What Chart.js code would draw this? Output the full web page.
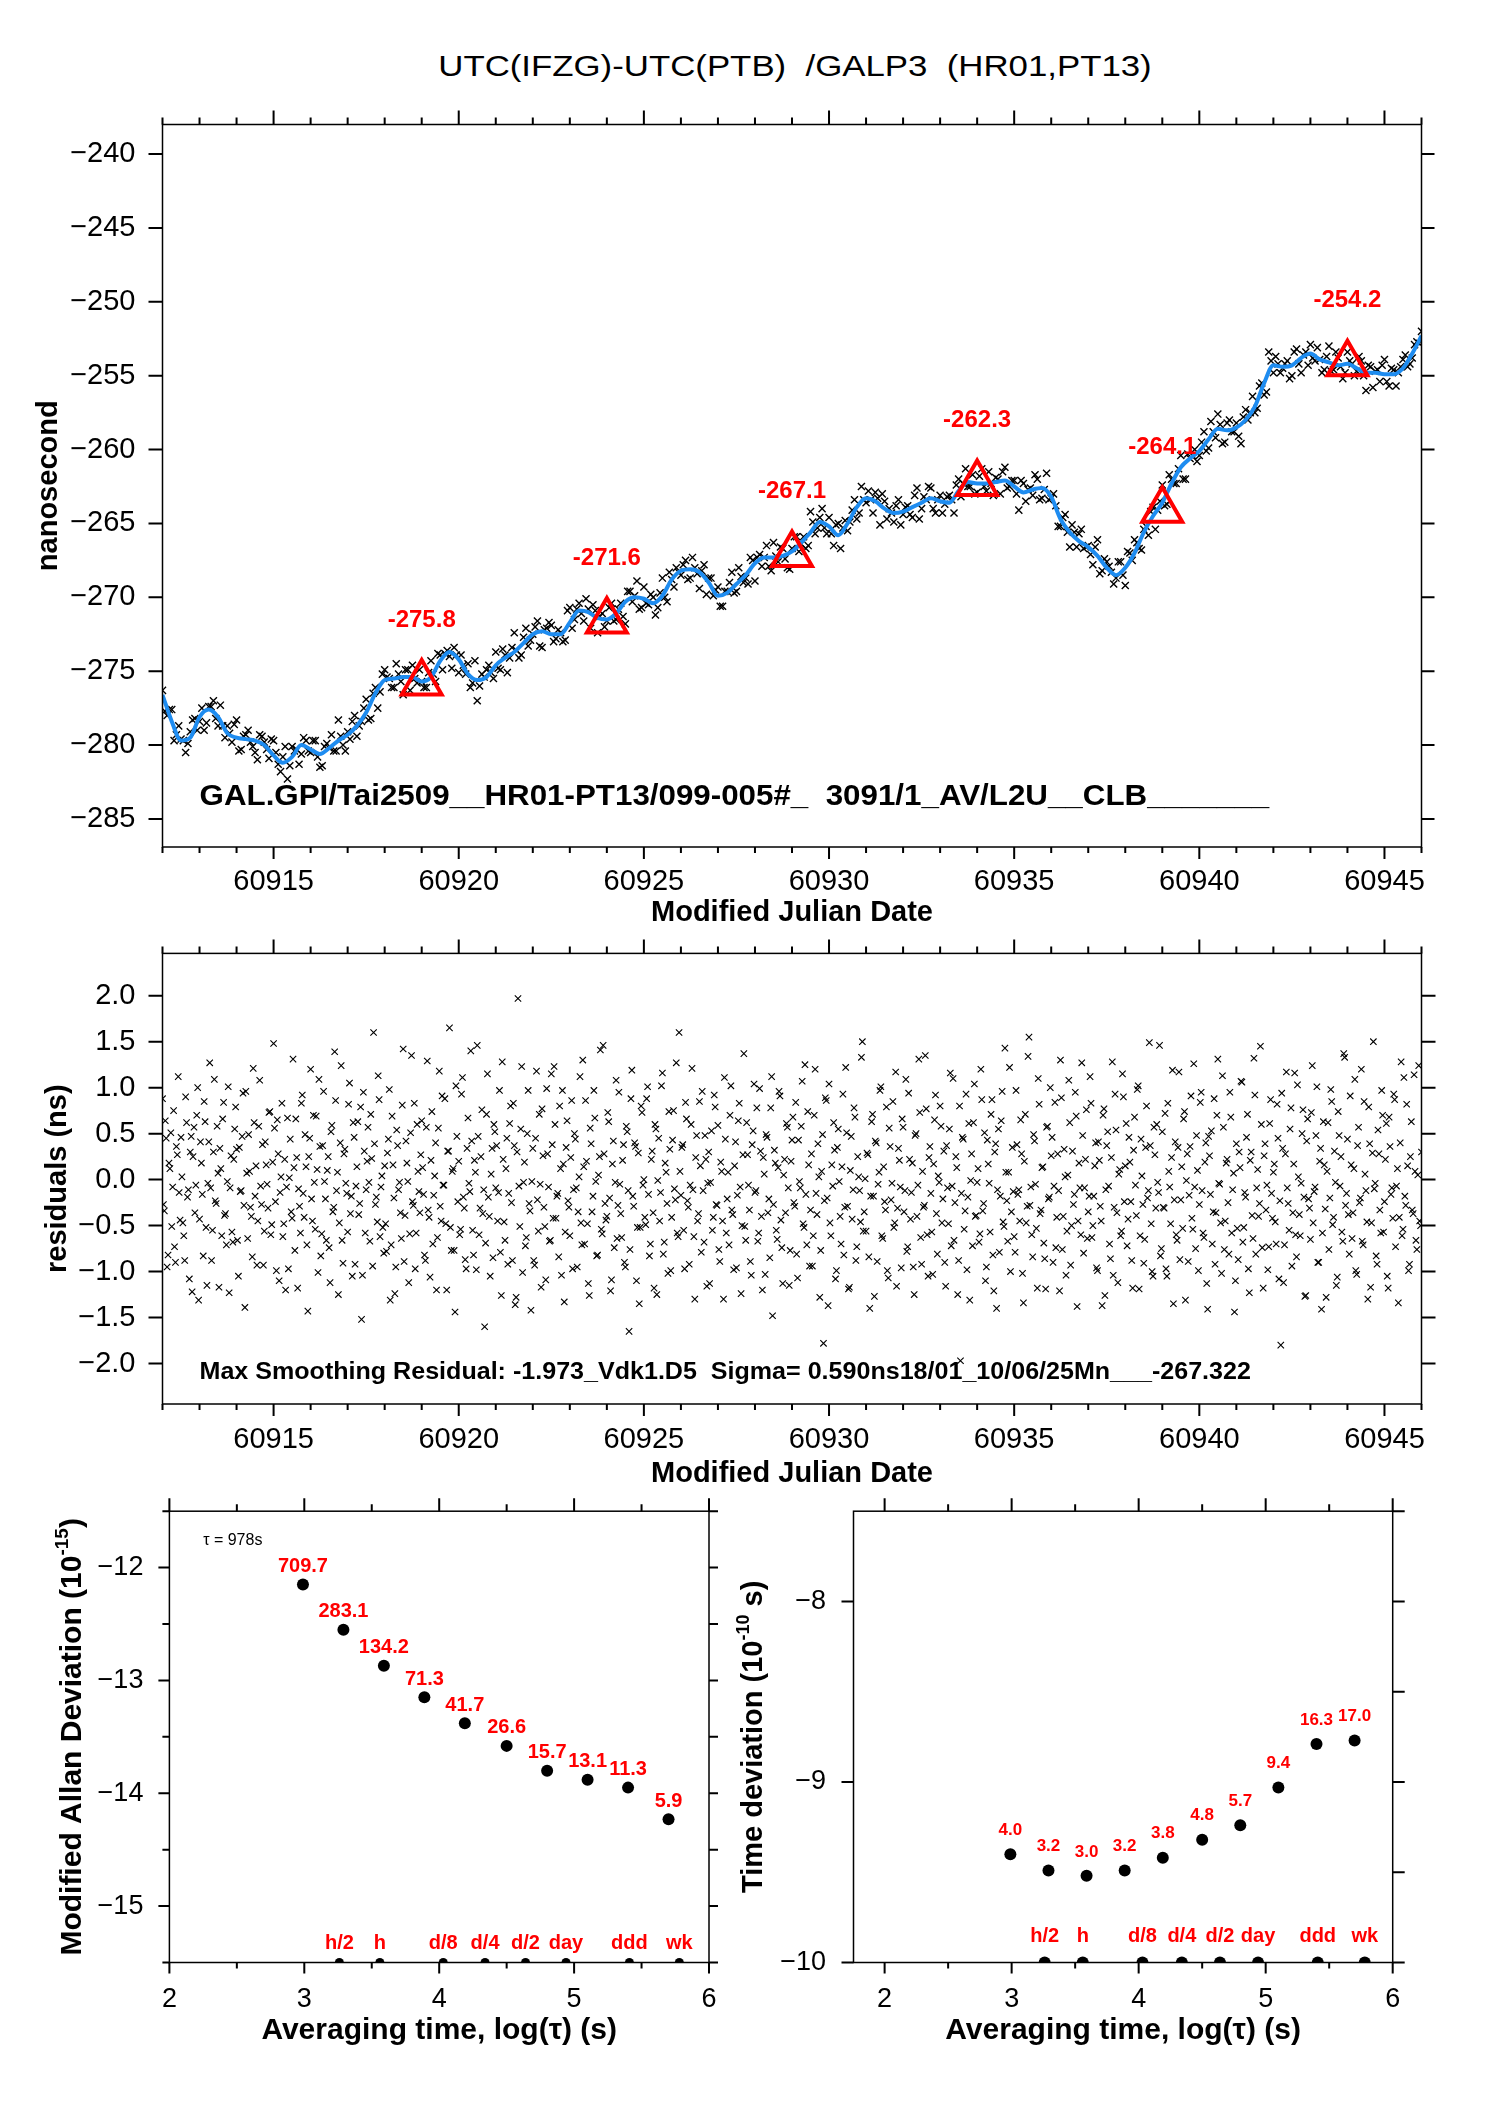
<!DOCTYPE html>
<html>
<head>
<meta charset="utf-8">
<script src="https://cdn.jsdelivr.net/npm/chart.js@4.4.1/dist/chart.umd.min.js"></script>
<style>
  body { margin: 0; background: #fff; }
  #page { position: relative; width: 1488px; height: 2105px; overflow: hidden; background: #fff; }
  .box { position: absolute; }
  #title { position: absolute; left: 295px; width: 1000px; top: 50px; line-height: 38px; text-align: center;
           font: 29px "Liberation Sans", Arial, sans-serif; white-space: pre; color: #000;
           transform: scaleX(1.2); transform-origin: 50% 50%; }
</style>
</head>
<body>
<div id="page">
  <div id="title">UTC(IFZG)-UTC(PTB)  /GALP3  (HR01,PT13)</div>
  <div class="box" style="left:0;top:90px;width:1488px;height:850px"><canvas id="top"></canvas></div>
  <div class="box" style="left:0;top:936px;width:1488px;height:564px"><canvas id="resid"></canvas></div>
  <div class="box" style="left:0;top:1495px;width:730px;height:610px"><canvas id="adev"></canvas></div>
  <div class="box" style="left:730px;top:1495px;width:758px;height:610px"><canvas id="tdev"></canvas></div>
</div>
<script>
// time span of the MJD panels
var mjdStart = 60912
var mjdEnd = 60946

// observations UTC(IFZG)-UTC(PTB), ns, every 1/8 day from mjdStart
var obsValues = [
  -276.3,-278.0,-277.6,-279.3,-279.6,-280.5,-279.1,-278.2,
  -278.4,-279.0,-277.4,-277.0,-278.7,-278.7,-278.7,-279.8,
  -278.3,-280.3,-279.3,-279.8,-280.5,-279.3,-279.8,-280.9,
  -279.7,-281.3,-280.8,-282.3,-280.1,-280.3,-280.6,-279.7,
  -280.5,-279.7,-281.5,-280.1,-280.2,-280.4,-278.3,-280.0,
  -279.1,-278.4,-279.4,-278.4,-276.9,-278.2,-276.1,-276.4,
  -274.9,-275.5,-276.1,-275.2,-276.6,-274.9,-274.6,-275.8,
  -275.7,-276.1,-274.3,-275.7,-273.9,-273.8,-274.0,-273.4,
  -275.1,-274.6,-274.5,-275.8,-277.0,-275.2,-274.9,-275.1,
  -273.7,-274.9,-273.9,-274.1,-272.4,-274.1,-272.7,-273.3,
  -272.5,-271.6,-273.4,-272.1,-271.9,-272.8,-272.4,-272.9,
  -270.7,-271.5,-270.4,-271.6,-270.8,-270.5,-272.4,-271.1,
  -271.6,-270.4,-271.5,-270.4,-271.8,-269.6,-269.9,-270.8,
  -269.3,-270.5,-270.0,-270.7,-268.7,-270.3,-268.8,-268.0,
  -268.5,-267.5,-268.7,-268.0,-269.4,-267.8,-268.7,-269.9,
  -269.3,-270.6,-269.6,-268.3,-269.6,-268.6,-268.7,-267.3,
  -268.9,-267.1,-267.3,-267.9,-266.3,-267.6,-266.7,-268.0,
  -266.7,-265.9,-266.4,-266.7,-264.2,-265.7,-264.6,-265.3,
  -264.6,-266.5,-265.0,-265.3,-265.5,-264.1,-264.7,-262.5,
  -263.6,-263.4,-262.9,-265.1,-263.5,-264.0,-264.9,-263.4,
  -264.4,-263.8,-264.6,-262.6,-264.0,-263.4,-262.6,-264.3,
  -263.1,-263.7,-263.1,-264.3,-262.0,-262.3,-262.5,-261.7,
  -262.9,-261.3,-262.8,-262.3,-261.9,-263.0,-261.2,-262.5,
  -262.1,-264.1,-262.3,-262.7,-263.1,-262.0,-263.3,-261.6,
  -263.3,-263.8,-265.2,-264.4,-266.6,-265.6,-265.7,-266.7,
  -266.5,-267.8,-266.1,-268.2,-267.6,-268.3,-268.7,-267.6,
  -269.2,-267.0,-266.1,-266.7,-265.4,-265.8,-263.9,-264.1,
  -262.4,-263.7,-262.0,-262.3,-260.4,-262.0,-260.6,-260.0,
  -260.4,-258.8,-259.9,-258.8,-257.6,-259.6,-258.2,-258.8,
  -258.2,-259.6,-257.3,-257.5,-257.5,-255.7,-256.3,-253.4,
  -254.8,-254.2,-254.5,-254.0,-255.0,-253.2,-254.8,-253.4,
  -252.9,-254.0,-253.9,-254.6,-253.0,-254.6,-253.8,-255.2,
  -253.4,-254.2,-254.7,-254.0,-256.0,-254.4,-254.7,-255.4,
  -253.9,-255.7,-254.6,-254.8,-253.9,-254.4,-253.8,-252.7,
  -252.0
]
// observations in between, every 1/8 day from mjdStart + 1/16
var obsMidValues = [
  -277.7,-277.6,-279.7,-278.7,-279.7,-279.9,-278.3,-279.0,
  -277.5,-278.5,-277.4,-278.2,-277.3,-279.5,-279.2,-278.6,
  -280.4,-279.4,-279.0,-280.1,-281.0,-279.4,-280.3,-279.6,
  -280.5,-281.8,-280.1,-281.4,-280.4,-281.3,-279.5,-280.4,
  -279.7,-280.8,-281.4,-279.9,-279.3,-280.4,-279.4,-280.4,
  -279.6,-278.0,-278.7,-277.5,-278.3,-276.5,-277.5,-275.2,
  -275.4,-276.1,-274.5,-275.7,-274.9,-276.3,-275.5,-274.9,
  -276.1,-275.1,-275.2,-273.8,-274.9,-273.6,-274.8,-273.9,
  -273.9,-275.2,-276.1,-274.3,-276.0,-275.4,-274.6,-275.5,
  -274.8,-273.5,-275.1,-273.4,-273.6,-273.9,-272.1,-272.9,
  -272.0,-273.3,-272.2,-271.7,-273.0,-272.2,-273.0,-270.9,
  -272.1,-270.8,-271.1,-270.1,-272.1,-270.9,-271.3,-272.0,
  -270.7,-271.6,-270.8,-271.3,-269.6,-270.3,-268.9,-270.7,
  -270.4,-269.8,-271.2,-269.7,-270.0,-268.3,-269.3,-268.3,
  -267.8,-268.8,-267.3,-268.4,-268.2,-269.8,-268.7,-269.5,
  -270.6,-269.6,-269.0,-269.7,-268.0,-269.0,-269.1,-267.5,
  -267.3,-267.9,-266.5,-268.2,-267.2,-266.6,-267.4,-268.1,
  -265.9,-266.9,-265.9,-266.5,-264.9,-265.3,-264.0,-265.7,
  -265.7,-265.1,-266.7,-264.8,-264.9,-263.4,-264.3,-263.4,
  -262.8,-264.3,-263.3,-263.0,-264.7,-264.3,-263.8,-265.1,
  -263.9,-264.4,-263.1,-264.7,-263.2,-262.5,-264.0,-263.4,
  -264.3,-263.2,-263.4,-262.4,-263.2,-261.3,-262.5,-263.0,
  -261.8,-262.5,-261.5,-263.1,-262.0,-261.5,-262.6,-262.1,
  -263.0,-262.1,-263.5,-262.6,-261.7,-263.4,-262.7,-263.4,
  -263.0,-265.2,-264.6,-265.6,-265.1,-266.6,-265.4,-266.6,
  -267.1,-266.6,-268.4,-267.4,-267.9,-269.1,-267.6,-268.5,
  -266.9,-267.5,-266.3,-266.8,-265.2,-264.2,-265.4,-263.5,
  -263.8,-261.7,-262.3,-261.3,-262.0,-260.3,-260.4,-260.8,
  -259.5,-260.1,-258.1,-259.2,-258.3,-259.5,-258.0,-258.8,
  -259.1,-257.8,-258.0,-256.4,-257.2,-255.5,-256.1,-254.0,
  -253.7,-254.8,-254.2,-255.2,-253.4,-254.2,-253.6,-254.3,
  -253.8,-253.1,-254.8,-253.7,-254.7,-253.4,-254.4,-254.8,
  -254.0,-255.0,-253.7,-255.0,-254.3,-255.8,-254.6,-254.3,
  -255.4,-254.5,-255.7,-254.4,-253.6,-254.2,-252.9,-252.8
]

// smoothing curve, ns, every 1/4 day
var smoothValues = [
  -276.6,-278.4,-279.7,-279.5,-278.1,-277.6,-278.1,-279.2,
  -279.5,-279.6,-279.7,-280.0,-280.7,-281.2,-280.8,-280.0,
  -280.3,-280.6,-280.2,-279.7,-279.3,-278.7,-277.8,-276.5,
  -275.6,-275.5,-275.4,-275.4,-275.7,-275.4,-274.3,-273.7,
  -274.2,-275.2,-275.6,-275.4,-274.6,-274.1,-273.7,-273.1,
  -272.5,-272.3,-272.5,-272.5,-271.7,-270.9,-271.0,-271.4,
  -271.5,-271.1,-270.3,-270.0,-270.1,-270.4,-269.9,-268.8,
  -268.2,-268.1,-268.3,-269.0,-269.9,-269.7,-269.1,-268.5,
  -267.7,-267.3,-267.3,-267.2,-266.9,-266.3,-265.6,-264.9,
  -265.2,-265.8,-265.0,-263.9,-263.3,-263.5,-264.0,-264.3,
  -264.2,-263.9,-263.6,-263.3,-263.5,-263.6,-262.8,-262.2,
  -262.3,-262.3,-262.2,-262.1,-262.5,-262.9,-262.7,-262.6,
  -263.2,-264.7,-265.6,-266.2,-266.6,-267.2,-268.0,-268.5,
  -268.0,-267.0,-265.6,-264.5,-263.6,-262.3,-261.2,-260.6,
  -260.1,-259.3,-258.6,-258.7,-258.5,-258.0,-257.1,-255.5,
  -254.3,-254.4,-254.3,-253.8,-253.5,-253.9,-254.1,-254.3,
  -254.2,-254.5,-254.8,-254.8,-254.9,-254.9,-254.5,-253.5,
  -252.3
]

// red triangles every 5 days
var triMjd = [60919, 60924, 60929, 60934, 60939, 60944]
var triValues = [-275.8, -271.6, -267.1, -262.3, -264.1, -254.2]

// residuals in 1/100 ns, every 1/20 day from mjdStart
var residCenti = [
  88,-34,45,-82,12,-51,75,-90,27,-14,46,-47,-88,62,-11,30,-122,57,-6,100,
  -43,18,-83,63,-115,41,-9,-55,109,-26,7,34,-61,84,-37,-2,-123,26,-68,55,
  33,-105,-13,47,-28,96,-64,9,-40,121,-18,-93,58,-7,38,-56,16,-31,74,-49,
  148,-24,65,-110,3,-62,22,-8,-97,44,-42,13,66,-118,-29,83,-15,49,-71,25,
  120,-45,-3,69,-101,36,-59,96,-21,10,-74,52,-35,139,-12,-125,40,-66,28,-4,
  -57,105,-18,62,-92,14,-38,79,-104,31,-11,57,-67,23,160,-27,-46,87,-8,-52,
  15,-78,44,-131,69,-20,-95,37,-3,-64,142,-39,18,-112,51,-24,83,-58,9,-36,
  64,-16,-88,129,-41,21,-70,4,-120,56,-29,91,-6,-48,31,165,-77,12,-144,47,
  20,-54,111,-31,-97,67,-13,42,-82,8,146,-60,25,-37,-160,71,-19,-105,34,60,
  -9,-45,97,-126,22,-66,45,-15,80,-88,37,-128,197,-51,123,-3,-72,50,-26,-142,
  34,-93,118,-56,-5,77,-30,-109,28,-67,115,-42,60,-18,-84,12,97,-133,35,-23,
  -61,86,-11,44,-95,3,-47,130,-70,20,-113,56,-35,97,-2,-82,25,-54,146,-26,
  -40,63,-121,17,-74,108,-28,-5,-63,38,-95,52,-165,88,-18,40,-110,29,-52,73,
  0,-49,101,-83,22,-36,60,-125,45,-14,116,-68,8,-102,33,-41,75,-22,-58,160,
  -17,38,-97,66,-30,-6,121,-62,24,-45,85,-79,-12,48,-116,30,-3,-55,92,-27,
  59,-89,9,-130,44,-21,-71,102,-38,15,-96,64,-8,-50,137,-66,27,-33,-104,53,
  -14,78,-58,31,-120,6,49,-36,-85,112,-27,18,-65,96,-44,-113,22,61,-9,-77,
  43,-25,84,-107,-2,58,-48,125,-71,16,-33,-94,70,-15,39,-128,9,-178,89,-20,
  104,-61,-7,32,-99,55,-40,14,-82,122,-29,-117,47,-11,68,-73,3,-46,150,-35,
  -56,27,-140,63,-18,42,-89,8,101,-64,-24,79,-107,36,-4,-52,117,-31,21,-96,
  57,-12,-78,94,-43,18,-125,50,-6,73,-92,-30,135,-60,24,-15,-103,65,-37,4,
  80,-47,31,-116,-9,55,-72,110,-25,13,-88,-197,46,-54,93,-19,-131,28,62,-40,
  -3,-68,120,-34,51,-95,17,-57,87,-121,39,-11,-79,64,-46,143,-23,8,-100,35,
  -62,97,-16,-45,28,-134,71,-29,155,-8,-84,42,-53,110,-37,13,-69,-119,58,-19,
  26,-90,84,-41,-12,130,-76,33,-104,5,62,-50,-27,95,-138,18,-60,48,-9,76,
  -35,112,-63,-18,40,-99,21,-45,70,-126,37,-7,-86,128,-30,54,-112,11,-56,90,
  15,-72,46,-24,-118,68,-39,102,-61,4,-91,35,-20,149,-48,-105,27,60,-14,-83,
  52,-31,-97,83,-8,24,-135,41,-66,117,-22,-53,74,-1,-89,36,-42,126,-75,10,
  -27,95,-58,19,-113,47,-16,-70,88,-36,131,-5,-102,57,-45,22,-81,68,-11,-144,
  39,-87,13,106,-52,-19,71,-123,30,-64,92,-9,-40,145,-74,26,-33,-98,61,-15,
  8,-46,82,-108,-180,34,-71,117,-26,55,-94,17,-60,103,-38,-4,76,-127,42,-21,
  -65,124,-13,48,-90,20,-141,63,-32,9,-76,98,-49,31,-115,74,-7,-57,137,-28,
  44,-81,16,-36,109,-103,57,-20,-67,85,-12,-130,39,-47,150,-4,-92,28,-58,70,
  -24,61,-118,36,-9,93,-73,12,-41,128,-54,-18,82,-99,25,-33,114,-66,5,-45,
  30
]
// residuals in between, every 1/20 day from mjdStart + 1/40
var residMidCenti = [
  -27,64,-95,18,51,-8,-73,36,112,-44,3,-61,90,-19,-108,47,25,-36,70,-131,
  41,-16,85,-52,-4,127,-88,30,-23,58,-117,12,66,-39,-71,101,-9,-57,22,79,
  -66,35,-12,94,-139,7,49,-30,-84,62,15,-45,108,-27,-93,41,-5,73,-60,19,
  56,-99,28,-14,83,-48,-120,67,2,-35,131,-77,24,-10,-58,92,-41,14,-143,45,
  -21,70,-54,11,109,-83,37,-2,-66,25,-112,59,-30,86,8,-47,124,-91,33,-15,
  82,-37,-105,46,-7,63,-26,-152,95,-58,20,-3,71,-94,39,-19,113,-62,4,-80,
  -48,29,98,-71,16,-124,54,-11,-36,81,-89,42,-2,-59,135,-28,-97,60,-13,27,
  13,-82,57,-33,-106,74,-17,40,-63,118,-45,-6,88,-120,31,-52,9,-77,102,-24,
  -60,93,-19,-87,34,-4,140,-55,21,-98,47,-31,76,-11,-69,115,-40,6,-85,52,
  37,-14,-79,128,-46,12,-92,61,-25,83,-136,30,-7,55,-101,19,-63,97,-34,-2,
  -88,45,-22,71,-117,26,-51,99,-8,-66,38,123,-42,-15,80,-104,17,-57,64,-30,
  24,-97,50,-9,-35,112,-71,14,86,-48,-126,39,-18,67,-83,5,141,-59,28,-44,
  73,-20,-109,42,-3,-64,95,-37,21,-90,58,-12,-76,119,-29,36,-52,-135,80,-6,
  -41,88,-16,-70,31,-118,55,-1,-45,102,-81,18,-26,74,-99,43,-10,127,-62,9,
  35,-55,84,-23,-92,60,-11,-130,48,-37,15,96,-68,22,-4,-113,53,-41,79,-28,
  -76,19,-45,111,-58,8,70,-33,-98,41,-17,83,-124,27,-51,62,-6,-89,38,104,
  -12,-67,99,-40,24,-103,46,-21,78,-148,32,-55,13,91,-74,5,-36,57,-115,20,
  68,-29,-81,43,-9,107,-52,-16,74,-94,28,-61,120,-38,3,-77,49,-23,86,-137,
  -47,16,62,-108,35,-2,-70,93,-30,51,-119,10,-43,78,-88,25,-12,133,-56,1,
  29,-84,-18,71,-127,40,-5,97,-61,14,-33,-99,56,-22,85,-47,-116,34,-8,66,
  -35,109,-73,22,-14,-95,48,-40,131,-63,9,-28,77,-105,36,-57,17,92,-81,-3,
  58,-21,-90,37,-48,116,-7,-66,25,-125,80,-15,44,-34,-98,61,-1,-72,104,-39,
  12,-59,87,-26,-110,43,-4,71,-82,30,-140,55,-18,96,-51,8,-67,122,-35,-13,
  -79,38,-11,65,-102,20,-47,134,-28,-60,49,-5,-118,82,-33,14,-86,57,-21,100,
  46,-7,-74,28,-121,89,-40,3,-56,108,-93,31,-16,69,-45,-9,127,-80,22,-64,
  -18,83,-50,15,-96,41,-29,-137,77,-11,52,-70,24,-104,93,-36,6,-61,115,-24,
  61,-43,19,-88,32,-6,98,-119,44,-27,-65,80,-12,37,-100,57,-31,-3,146,-75,
  -30,72,-105,9,-48,119,-22,-60,35,-87,14,66,-131,28,-17,91,-54,-8,48,-99,
  84,-12,-63,40,-141,26,53,-35,-92,70,-4,-47,113,-76,18,-25,95,-58,7,-110,
  -53,30,107,-68,-14,46,-97,21,-39,132,-81,11,-26,60,-118,39,-6,-73,87,-42,
  17,-70,45,-23,94,-112,28,-9,-55,78,-36,116,-84,3,-61,50,-19,-126,66,-31,
  73,-47,-8,101,-90,34,-58,16,-128,62,-20,85,-41,-3,-106,48,25,-67,133,-15,
  -38,91,-64,12,-99,37,-25,120,-71,6,-46,79,-117,29,-10,-83,54,-33,97,-57,
  22,-105,68,-16,-42,87,-7,-134,40,-61,111,-28,15,-92,63,-37,9,-76,124,-50
]

// stability panels
var logTau = [2.99, 3.29, 3.59, 3.89, 4.19, 4.50, 4.80, 5.10, 5.40, 5.70]
var adevLog = [-12.15, -12.55, -12.87, -13.15, -13.38, -13.58, -13.80, -13.88, -13.95, -14.23]
var adevLabels = ['709.7', '283.1', '134.2', '71.3', '41.7', '26.6', '15.7', '13.1', '11.3', '5.9']
var tdevLog = [-9.40, -9.49, -9.52, -9.49, -9.42, -9.32, -9.24, -9.03, -8.79, -8.77]
var tdevLabels = ['4.0', '3.2', '3.0', '3.2', '3.8', '4.8', '5.7', '9.4', '16.3', '17.0']
var markTau = [3.26, 3.56, 4.03, 4.34, 4.64, 4.94, 5.41, 5.78]
var markNames = ['h/2', 'h', 'd/8', 'd/4', 'd/2', 'day', 'ddd', 'wk']

// tick labels
var mjdTicks = [60915, 60920, 60925, 60930, 60935, 60940, 60945]
var nsTicks = [-240, -245, -250, -255, -260, -265, -270, -275, -280, -285]
var residTicks = [-2, -1.5, -1, -0.5, 0, 0.5, 1, 1.5, 2]
var tauTicks = [2, 3, 4, 5, 6]
var adevTicks = [-12, -13, -14, -15]
var tdevTicks = [-8, -9, -10]

var FONT = '"Liberation Sans", Arial, sans-serif'
Chart.defaults.font.family = FONT
Chart.defaults.color = '#000'

function series(values, start, step, scale) {
  return values.map(function(v, i) { return {x: start + i * step, y: v * scale} })
}

var mjdMinor = []
for (var d = mjdStart; d <= mjdEnd; d++) mjdMinor.push(d)
var tauHalf = [2.5, 3.5, 4.5, 5.5]

//frame, outward ticks on the four sides and free texts
function decor(spec) {
  return {
    id: 'decor',
    afterDraw: function(chart) {
      var ctx = chart.ctx, a = chart.chartArea
      var xs = chart.scales.x, ys = chart.scales.y
      ctx.save()
      ctx.strokeStyle = '#000'
      ctx.lineWidth = 2
      ctx.beginPath()
      spec.xTicks.forEach(function(t) {
        t[0].forEach(function(v) {
          var p = xs.getPixelForValue(v)
          ctx.moveTo(p, a.top - t[1]); ctx.lineTo(p, a.top)
          ctx.moveTo(p, a.bottom); ctx.lineTo(p, a.bottom + t[2])
        })
      })
      spec.yTicks.forEach(function(t) {
        t[0].forEach(function(v) {
          var p = ys.getPixelForValue(v)
          ctx.moveTo(a.left - t[1], p); ctx.lineTo(a.left, p)
          ctx.moveTo(a.right, p); ctx.lineTo(a.right + t[2], p)
        })
      })
      ctx.stroke()
      ctx.lineWidth = 1.5
      ctx.strokeRect(a.left, a.top, a.right - a.left, a.bottom - a.top)
      ctx.textBaseline = 'middle'
      spec.texts.forEach(function(t) {
        ctx.save()
        ctx.font = t.font
        ctx.fillStyle = t.color || '#000'
        ctx.textAlign = t.align || 'center'
        ctx.translate(xs.getPixelForValue(t.x), ys.getPixelForValue(t.y) + (t.dy || 0))
        ctx.scale(t.sx || 1, 1)
        ctx.fillText(t.text, 0, 0)
        ctx.restore()
      })
      //rotated y title with a raised exponent
      if (spec.yTitle) {
        var T = spec.yTitle, total = 0
        ctx.save()
        ctx.translate(T.x, (a.top + a.bottom) / 2)
        ctx.rotate(-Math.PI / 2)
        ctx.fillStyle = '#000'
        ctx.textAlign = 'left'
        T.parts.forEach(function(p) { ctx.font = p.font; p.w = ctx.measureText(p.text).width; total += p.w })
        var pos = -total / 2
        T.parts.forEach(function(p) { ctx.font = p.font; ctx.fillText(p.text, pos, -(p.rise || 0)); pos += p.w })
        ctx.restore()
      }
      ctx.restore()
    }
  }
}

function xAxis(o) {
  return {
    type: 'linear', min: o.min, max: o.max,
    grid: {display: false, drawTicks: true, tickLength: o.pad}, border: {display: false},
    afterBuildTicks: function(s) { s.ticks = o.ticks.map(function(v) { return {value: v} }) },
    afterFit: function(s) { s.height = o.height },
    ticks: {color: '#000', font: {size: o.size}, padding: 0, maxRotation: 0, autoSkip: false,
            callback: function(v) { return String(v) }},
    title: {display: true, text: o.title, color: '#000', font: {size: o.titleSize, weight: 'bold'},
            padding: {top: 0, bottom: o.titlePad}}
  }
}

function yAxis(o) {
  return {
    type: 'linear', min: o.min, max: o.max,
    grid: {display: false, drawTicks: true, tickLength: o.pad}, border: {display: false},
    afterBuildTicks: function(s) { s.ticks = o.ticks.map(function(v) { return {value: v} }) },
    afterFit: function(s) { s.width = o.width },
    ticks: {color: '#000', font: {size: o.size}, padding: 0, autoSkip: false,
            callback: function(v) { return (v < 0 ? '\u2212' : '') + Math.abs(v).toFixed(o.dec) }},
    title: {display: !!o.title, text: o.title || '', color: '#000', font: {size: o.titleSize, weight: 'bold'},
            padding: {top: o.titlePad || 0, bottom: 0}}
  }
}

var baseOpts = {animation: false, responsive: true, maintainAspectRatio: false, devicePixelRatio: 1,
                events: [], plugins: {legend: {display: false}, tooltip: {enabled: false}}}

function opts(extra) { return Object.assign({}, baseOpts, extra) }

var crossStyle = {pointStyle: 'crossRot', pointRadius: 4.5, pointBorderWidth: 1.1, pointBorderColor: '#000'}
var crossBold = {pointStyle: 'crossRot', pointRadius: 5, pointBorderWidth: 1.4, pointBorderColor: '#000'}

//top panel
new Chart(document.getElementById('top'), {
  type: 'scatter',
  data: {datasets: [
    {data: triMjd.map(function(x, i) { return {x: x, y: triValues[i]} }), order: 0,
     pointStyle: 'triangle', pointRadius: 23, pointBorderWidth: 4,
     pointBorderColor: '#ff0000', pointBackgroundColor: 'rgba(0,0,0,0)'},
    {data: series(smoothValues, mjdStart, 0.25, 1), order: 1, showLine: true, borderColor: 'rgb(30,140,240)',
     borderWidth: 4, pointRadius: 0, cubicInterpolationMode: 'monotone'},
    Object.assign({data: series(obsValues, mjdStart, 0.125, 1), order: 2}, crossBold),
    Object.assign({data: series(obsMidValues, mjdStart + 0.0625, 0.125, 1), order: 3}, crossBold)
  ]},
  options: opts({
    layout: {padding: {top: 34.5, right: 66.5, left: 0, bottom: 0}},
    scales: {
      x: xAxis({min: mjdStart, max: mjdEnd, ticks: mjdTicks, height: 93, size: 29, pad: 17.6,
                title: 'Modified Julian Date', titleSize: 29, titlePad: 9.6}),
      y: yAxis({min: -286.9, max: -238.0, ticks: nsTicks, width: 162.5, size: 29, pad: 27, dec: 0,
                title: 'nanosecond', titleSize: 29, titlePad: 31.6})
    }
  }),
  plugins: [decor({
    xTicks: [[mjdTicks, 14, 12], [mjdMinor, 7, 6]],
    yTicks: [[nsTicks, 14, 13]],
    texts: triMjd.map(function(x, i) {
      return {text: triValues[i].toFixed(1), x: x, y: triValues[i], dy: -63, color: '#ff0000', font: 'bold 24px ' + FONT}
    }).concat([{text: 'GAL.GPI/Tai2509__HR01-PT13/099-005#_  3091/1_AV/L2U__CLB_______', x: 60913, y: -283.5,
                align: 'left', sx: 1.08, font: 'bold 29px ' + FONT}])
  })]
})

//residual panel
new Chart(document.getElementById('resid'), {
  type: 'scatter',
  data: {datasets: [
    Object.assign({data: series(residCenti, mjdStart, 0.05, 0.01)}, crossStyle),
    Object.assign({data: series(residMidCenti, mjdStart + 0.025, 0.05, 0.01)}, crossStyle)
  ]},
  options: opts({
    layout: {padding: {top: 17.4, right: 66.5, left: 0, bottom: 0}},
    scales: {
      x: xAxis({min: mjdStart, max: mjdEnd, ticks: mjdTicks, height: 96, size: 29, pad: 18.6,
                title: 'Modified Julian Date', titleSize: 29, titlePad: 8.6}),
      y: yAxis({min: -2.44, max: 2.46, ticks: residTicks, width: 162.5, size: 29, pad: 27, dec: 1,
                title: 'residuals (ns)', titleSize: 29, titlePad: 40.6})
    }
  }),
  plugins: [decor({
    xTicks: [[mjdTicks, 14, 12], [mjdMinor, 7, 6]],
    yTicks: [[residTicks, 14, 14]],
    texts: [{text: 'Max Smoothing Residual: -1.973_Vdk1.D5  Sigma= 0.590ns18/01_10/06/25Mn___-267.322',
             x: 60913, y: -2.10, align: 'left', sx: 1.09, font: 'bold 23px ' + FONT}]
  })]
})

//modified Allan deviation
new Chart(document.getElementById('adev'), {
  type: 'scatter',
  data: {datasets: [
    {data: logTau.map(function(x, i) { return {x: x, y: adevLog[i]} }), pointRadius: 6,
     pointBackgroundColor: '#000', pointBorderColor: '#000', pointBorderWidth: 0},
    {data: markTau.map(function(x) { return {x: x, y: -15.5} }), pointRadius: 4.5, clip: 0,
     pointBackgroundColor: '#000', pointBorderColor: '#000', pointBorderWidth: 0}
  ]},
  options: opts({
    layout: {padding: {top: 16.2, right: 21, left: 0, bottom: 0}},
    scales: {
      x: xAxis({min: 2, max: 6, ticks: tauTicks, height: 142.5, size: 27, pad: 21.3,
                title: 'Averaging time, log(\u03c4) (s)', titleSize: 30, titlePad: 56}),
      y: yAxis({min: -15.5, max: -11.5, ticks: adevTicks, width: 169.4, size: 27, pad: 26, dec: 0})
    }
  }),
  plugins: [decor({
    xTicks: [[tauTicks, 13, 11], [tauHalf, 7, 6]],
    yTicks: [[adevTicks, 11, 9], [[-11.5, -12.5, -13.5, -14.5, -15.5], 7, 9]],
    texts: logTau.map(function(x, i) {
      return {text: adevLabels[i], x: x, y: adevLog[i], dy: -18, color: '#ff0000', font: 'bold 20px ' + FONT}
    }).concat(markTau.map(function(x, i) {
      return {text: markNames[i], x: x, y: -15.5, dy: -18.6, color: '#ff0000', font: 'bold 20px ' + FONT}
    })).concat([{text: '\u03c4 = 978s', x: 2.25, y: -11.76, align: 'left', font: '16px ' + FONT}]),
    yTitle: {x: 73, parts: [
      {text: 'Modified Allan Deviation (10', font: 'bold 30px ' + FONT},
      {text: '-15', font: 'bold 19px ' + FONT, rise: 10},
      {text: ')', font: 'bold 30px ' + FONT}
    ]}
  })]
})

//time deviation
new Chart(document.getElementById('tdev'), {
  type: 'scatter',
  data: {datasets: [
    {data: logTau.map(function(x, i) { return {x: x, y: tdevLog[i]} }), pointRadius: 6,
     pointBackgroundColor: '#000', pointBorderColor: '#000', pointBorderWidth: 0},
    {data: markTau.map(function(x) { return {x: x, y: -10} }), pointRadius: 6, clip: 0,
     pointBackgroundColor: '#000', pointBorderColor: '#000', pointBorderWidth: 0}
  ]},
  options: opts({
    layout: {padding: {top: 16.2, right: 95.3, left: 0, bottom: 0}},
    scales: {
      x: xAxis({min: 1.755, max: 6, ticks: tauTicks, height: 142.5, size: 27, pad: 21.3,
                title: 'Averaging time, log(\u03c4) (s)', titleSize: 30, titlePad: 56}),
      y: yAxis({min: -10, max: -7.5, ticks: tdevTicks, width: 123.5, size: 27, pad: 27.5, dec: 0})
    }
  }),
  plugins: [decor({
    xTicks: [[tauTicks, 13, 11], [tauHalf, 7, 6]],
    yTicks: [[tdevTicks, 12, 12], [[-7.5, -8.5, -9.5], 0, 12]],
    texts: logTau.map(function(x, i) {
      return {text: tdevLabels[i], x: x, y: tdevLog[i], dy: -24, color: '#ff0000', font: 'bold 17px ' + FONT}
    }).concat(markTau.map(function(x, i) {
      return {text: markNames[i], x: x, y: -10, dy: -26, color: '#ff0000', font: 'bold 20px ' + FONT}
    })),
    yTitle: {x: 24, parts: [
      {text: 'Time deviation (10', font: 'bold 29px ' + FONT},
      {text: '-10', font: 'bold 18px ' + FONT, rise: 10},
      {text: ' s)', font: 'bold 29px ' + FONT}
    ]}
  })]
})
</script>
</body>
</html>
